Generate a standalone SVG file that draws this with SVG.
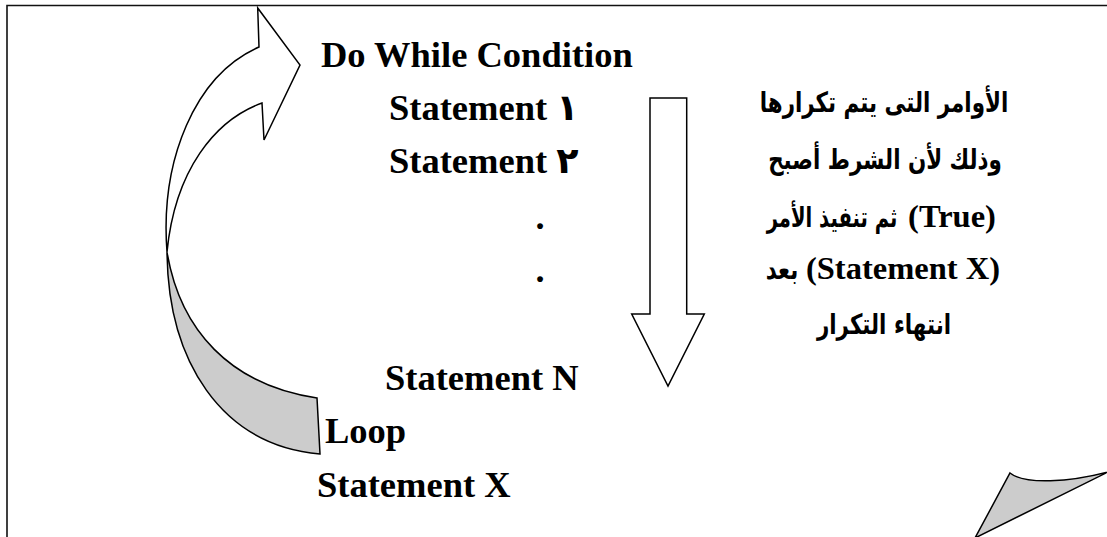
<svg xmlns="http://www.w3.org/2000/svg" width="1107" height="537" viewBox="0 0 1107 537">
  <style>
    .code { font-family: "Liberation Serif", "DejaVu Sans", serif; font-weight: bold; font-size: 36.5px; fill: #000; }
    .latin { font-family: "Liberation Serif", serif; font-weight: bold; font-size: 32.5px; fill: #000; text-anchor: middle; }
    .arabic { font-family: "DejaVu Sans", sans-serif; font-weight: bold; font-size: 28px; fill: #000; text-anchor: middle; }
    .outline { fill: #fff; stroke: #000; stroke-width: 1.5; stroke-linejoin: miter; }
    .shade { fill: #cccccc; stroke: #000; stroke-width: 1.5; stroke-linejoin: miter; }
    .frame { fill: none; stroke: #111; stroke-width: 1.6; }
  </style>

  <rect width="1107" height="537" fill="#fff"/>

  <!-- page frame (top and left edges) -->
  <g id="frame">
    <path class="frame" d="M7,537 V5.5 H1107"/>
  </g>

  <!-- code lines -->
  <g id="do-while">
    <text class="code" x="321" y="67">Do While Condition</text>
  </g>
  <g id="statement-1">
    <text class="code" x="389" y="120">Statement ١</text>
  </g>
  <g id="statement-2">
    <text class="code" x="389" y="173">Statement ٢</text>
  </g>
  <g id="ellipsis">
    <text class="code" x="535.5" y="229">.</text>
    <text class="code" x="535.5" y="282">.</text>
  </g>
  <g id="statement-n">
    <text class="code" x="385" y="390">Statement N</text>
  </g>
  <g id="loop">
    <text class="code" x="325" y="443">Loop</text>
  </g>
  <g id="statement-x">
    <text class="code" x="317" y="497">Statement X</text>
  </g>

  <!-- explanatory note (Arabic runs narrowed to fit the column) -->
  <g id="note">
    <text class="arabic" transform="translate(884,112) scale(0.765,1)">الأوامر التى يتم تكرارها</text>
    <text class="arabic" transform="translate(885,169) scale(0.765,1)">وذلك لأن الشرط أصبح</text>
    <text class="arabic" transform="translate(832,227) scale(0.7,1)">ثم تنفيذ الأمر</text>
    <text class="latin" x="952" y="227">(True)</text>
    <text class="arabic" transform="translate(782,279) scale(0.765,1)">بعد</text>
    <text class="latin" x="903" y="279">(Statement X)</text>
    <text class="arabic" transform="translate(884,334) scale(0.765,1)">انتهاء التكرار</text>
  </g>

  <!-- block arrows -->
  <g id="connectors">
    <!-- curved loop-back arrow: back face (shaded) -->
    <path class="shade" d="M167,252 C168,360 220,445 320,454 L317,398 C230,385 180,330 167,252 Z"/>
    <!-- curved loop-back arrow: front face with head -->
    <path class="outline" d="M167,252 C160,160 195,75 259,47 L257.7,8 L300,65 L264,140 L262,103 C215,120 175,170 167,252 Z"/>
    <!-- downward flow arrow -->
    <path class="outline" d="M650,98 H686.7 V314 H704.3 L668,386 L631.7,314 H650 Z"/>
  </g>

  <!-- folded page corner -->
  <g id="page-corner">
    <path class="shade" d="M1010,473 C1025,485 1070,482 1108,472 L975,538 Z"/>
  </g>
</svg>
